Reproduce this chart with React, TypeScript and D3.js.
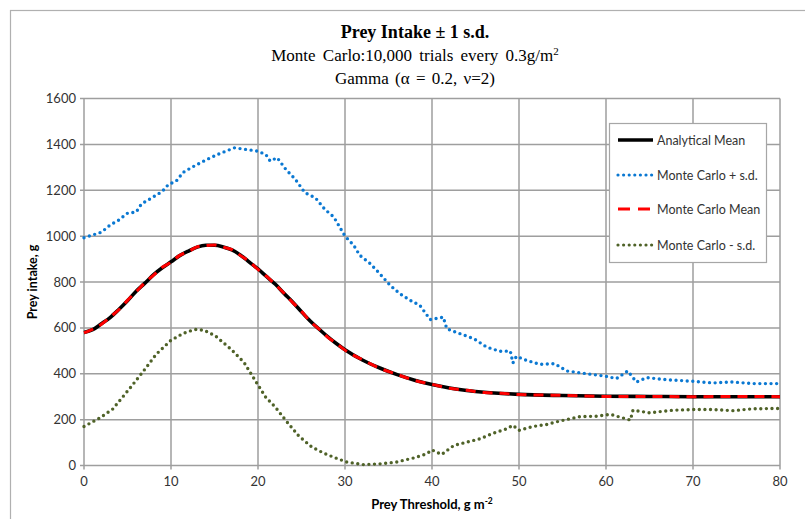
import React from "react";
import * as d3 from "d3";

// ---- data ----
const meanX = [0,1,2,3,4,5,6,7,8,9,10,11,12,13,14,15,16,17,18,19,20,21,22,23,24,25,26,27,28,29,30,32,34,36,38,40,42,44,46,48,50,55,60,65,70,75,80];
const analyticalMean = [580,592,618,645,680,718,760,795,832,862,888,915,935,952,960,960,953,940,917,887,857,823,790,750,712,670,630,595,562,532,505,460,425,396,372,353,338,327,319,314,310,305,302,301,300,300,300];
const mcMean = [578,594,616,647,679,720,758,797,830,864,886,916,933,953,959,961,952,941,915,889,855,824,788,751,710,672,628,596,560,533,503,461,424,397,371,354,337,328,318,315,309,306,301,301,300,301,300];

const plusX = [0,1,2,3,4,5,6,6.6,7.8,9,9.7,10.6,11.4,12.5,14,15.6,17.3,18.6,19.9,20.9,21.4,22.2,23.2,24.3,25.4,26.6,27.7,28.7,30,31,31.7,32.9,34,35.2,36.3,37.5,38.6,39.8,41.3,41.7,43.2,44.8,46.3,47.8,49,49.3,49.7,50.9,52.4,54.1,55.5,57.8,60,61.2,62.5,63.5,64.7,67,70,72.3,74.6,76.8,80];
const plusSD = [993,1005,1017,1048,1070,1100,1105,1140,1167,1195,1225,1240,1278,1302,1332,1360,1385,1378,1371,1356,1327,1342,1291,1247,1189,1167,1116,1084,1000,960,916,880,836,785,749,720,698,636,647,596,575,553,516,498,499,447,476,458,441,444,412,400,389,379,412,364,383,374,367,360,364,357,357];

const minusX = [0,1.8,3.3,5.3,6.8,8.3,10,11.35,12.7,13.8,15.1,16.9,18.4,19.7,20.9,22,23.2,24.7,26.2,27.5,28.7,30.2,32.1,34,35.9,37.9,39.4,40,41.1,42.5,44,45.5,47,48.6,49.3,50,51.6,53.2,54.7,57,58.9,60.5,62.8,63.1,65,67.7,70,72.3,74.6,76.8,80];
const minusSD = [170,207,246,338,410,485,546,575,593,590,565,507,449,369,297,254,196,128,80,55,36,15,4,7,15,33,51,68,48,87,102,116,140,160,175,153,170,179,194,213,215,223,198,241,230,241,244,244,239,247,249];

const xTicks = [0,10,20,30,40,50,60,70,80];
const yTicks = [0,200,400,600,800,1000,1200,1400,1600];

const legendItems = ["Analytical Mean", "Monte Carlo + s.d.", "Monte Carlo Mean", "Monte Carlo - s.d."];

const W = 805, H = 519;
const L = 84, R = 780, T = 98.5, B = 465.5;
const sans = "Lato, 'Open Sans', sans-serif";
const serif = "'Liberation Serif', 'Times New Roman', serif";
const gridColor = "#9e9e9e";

export default function App() {
  const x = d3.scaleLinear().domain([0, 80]).range([L, R]);
  const y = d3.scaleLinear().domain([0, 1600]).range([B, T]);

  const smooth = d3.line<[number, number]>().x(d => x(d[0])).y(d => y(d[1])).curve(d3.curveMonotoneX);
  const lin = d3.line<[number, number]>().x(d => x(d[0])).y(d => y(d[1]));

  const aPts = meanX.map((v, i) => [v, analyticalMean[i]] as [number, number]);
  const mPts = meanX.map((v, i) => [v, mcMean[i]] as [number, number]);
  const pPts = plusX.map((v, i) => [v, plusSD[i]] as [number, number]);
  const nPts = minusX.map((v, i) => [v, minusSD[i]] as [number, number]);

  const styles = [
    { stroke: "#000000", dash: undefined as string | undefined, cap: "butt" },
    { stroke: "#0a78d2", dash: "0 5.6", cap: "round" },
    { stroke: "#ff0000", dash: "12 8", cap: "butt" },
    { stroke: "#4f6228", dash: "0 5.6", cap: "round" },
  ];

  const legendYs = [140, 175, 209, 245];

  return (
    <svg width={W} height={H} style={{ position: "absolute", left: 0, top: 0, background: "#fff" }}>
      <rect x={10.5} y={10.5} width={800} height={520} fill="#fff" stroke="#b0b0b0" strokeWidth={1.2} />

      {/* title */}
      <text x={415} y={38} textAnchor="middle" fontFamily={serif} fontWeight="bold" fontSize={18}>Prey Intake ± 1 s.d.</text>
      <text x={415} y={61} textAnchor="middle" fontFamily={serif} fontSize={17} wordSpacing={3}>
        Monte Carlo:10,000 trials every 0.3g/m<tspan fontSize={11} dy={-6}>2</tspan>
      </text>
      <text x={415} y={84} textAnchor="middle" fontFamily={serif} fontSize={17} wordSpacing={2}>Gamma (α = 0.2, ν=2)</text>

      {/* grid */}
      {yTicks.map(t => (
        <line key={"gy" + t} x1={L - 4} x2={R} y1={y(t)} y2={y(t)} stroke={gridColor} strokeWidth={1.5} />
      ))}
      {xTicks.map(t => (
        <line key={"gx" + t} x1={x(t)} x2={x(t)} y1={T} y2={B + 4} stroke={gridColor} strokeWidth={1.5} />
      ))}

      {/* tick labels */}
      {yTicks.map(t => (
        <text key={"ly" + t} x={L - 8} y={y(t) + 4.5} textAnchor="end" fontFamily={sans} fontSize={13} fill="#333">{t}</text>
      ))}
      {xTicks.map(t => (
        <text key={"lx" + t} x={x(t)} y={B + 20} textAnchor="middle" fontFamily={sans} fontSize={13} fill="#333">{t}</text>
      ))}

      {/* axis titles */}
      <text x={x(40)} y={509} textAnchor="middle" fontFamily={sans} fontWeight="bold" fontSize={13}>
        Prey Threshold, g m<tspan fontSize={8.5} dy={-5}>-2</tspan>
      </text>
      <text transform={`translate(37,${(T + B) / 2}) rotate(-90)`} textAnchor="middle" fontFamily={sans} fontWeight="bold" fontSize={12.5}>Prey intake, g</text>

      {/* series */}
      <path d={lin(pPts) || ""} fill="none" stroke={styles[1].stroke} strokeWidth={3.4} strokeDasharray={styles[1].dash} strokeLinecap="round" />
      <path d={lin(nPts) || ""} fill="none" stroke={styles[3].stroke} strokeWidth={3.4} strokeDasharray={styles[3].dash} strokeLinecap="round" />
      <path d={smooth(aPts) || ""} fill="none" stroke="#000" strokeWidth={3.6} />
      <path d={smooth(mPts) || ""} fill="none" stroke="#ff0000" strokeWidth={3} strokeDasharray="10 7" />

      {/* legend */}
      <rect x={609.5} y={123.5} width={157} height={139} fill="#fff" stroke="#a6a6a6" strokeWidth={1.2} />
      {legendItems.map((name, i) => {
        const s = styles[i];
        const ly = legendYs[i];
        return (
          <g key={name}>
            <line x1={618} x2={653} y1={ly} y2={ly} stroke={s.stroke} strokeWidth={i === 0 ? 3.6 : 3.2}
              strokeDasharray={s.dash} strokeLinecap={s.cap as any} />
            <text x={657} y={ly + 4.5} fontFamily={sans} fontSize={12.5} fill="#333">{name}</text>
          </g>
        );
      })}
    </svg>
  );
}
